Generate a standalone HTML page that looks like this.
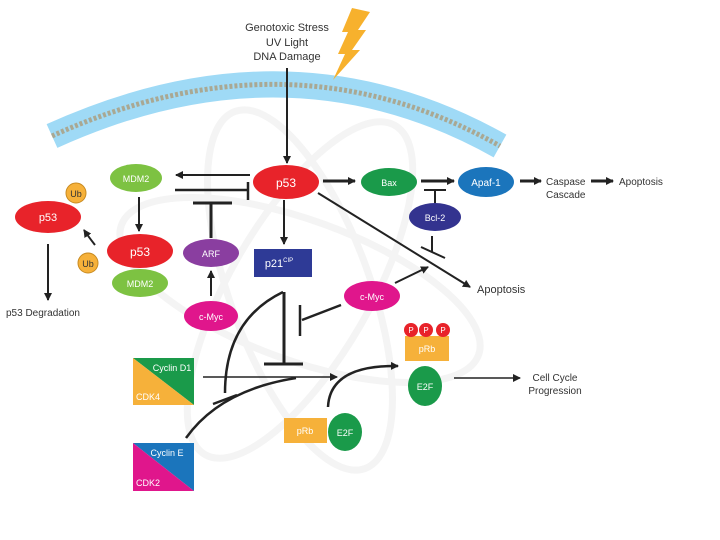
<!DOCTYPE html>
<html><head><meta charset="utf-8"><style>body{margin:0;background:#fff}svg{display:block}text{font-family:"Liberation Sans",sans-serif}</style></head><body>
<svg width="720" height="540" viewBox="0 0 720 540" xmlns="http://www.w3.org/2000/svg">
<defs><marker id="a" markerWidth="8" markerHeight="8" refX="7" refY="4" orient="auto" markerUnits="userSpaceOnUse"><path d="M0,0L8,4L0,8z" fill="#222"/></marker></defs>
<g fill="none" stroke="#f4f4f4" stroke-width="7">
<ellipse cx="300" cy="290" rx="190" ry="70" transform="rotate(20 300 290)"/>
<ellipse cx="300" cy="290" rx="190" ry="70" transform="rotate(-60 300 290)"/>
<ellipse cx="300" cy="290" rx="190" ry="70" transform="rotate(70 300 290)"/>
</g>
<path d="M52,136 Q290,28 500,146" fill="none" stroke="#9fdaf6" stroke-width="26"/>
<path d="M52,136 Q290,28 500,146" fill="none" stroke="#a9a893" stroke-width="5" stroke-dasharray="3 2"/>
<polygon points="352,8 370,12 358,30 366,30 352,50 360,50 333,80 345,54 338,54 348,32 342,32" fill="#f7b12d"/>
<g font-size="11" fill="#333" text-anchor="middle"><text x="287" y="31">Genotoxic Stress</text><text x="287" y="46">UV Light</text><text x="287" y="60">DNA Damage</text></g>
<g stroke="#222" stroke-width="2" fill="none">
<line x1="287" y1="68" x2="287" y2="163" marker-end="url(#a)"/>
<line x1="250" y1="175" x2="176" y2="175" marker-end="url(#a)"/>
<line x1="175" y1="190" x2="247" y2="190" stroke-width="2.5"/><line x1="248" y1="182" x2="248" y2="200" stroke-width="2.5"/>
<line x1="139" y1="197" x2="139" y2="231" marker-end="url(#a)"/>
<path d="M95,245 Q88,236 84,230" marker-end="url(#a)"/>
<line x1="48" y1="244" x2="48" y2="300" marker-end="url(#a)"/>
<line x1="211" y1="238" x2="211" y2="203" stroke-width="3"/><line x1="193" y1="203" x2="232" y2="203" stroke-width="3"/>
<line x1="211" y1="296" x2="211" y2="271" marker-end="url(#a)"/>
<line x1="284" y1="200" x2="284" y2="244" marker-end="url(#a)"/>
<line x1="323" y1="181" x2="355" y2="181" stroke-width="3" marker-end="url(#a)"/>
<line x1="421" y1="181" x2="454" y2="181" stroke-width="3" marker-end="url(#a)"/>
<line x1="435" y1="203" x2="435" y2="190"/><line x1="424" y1="190" x2="446" y2="190"/>
<line x1="432" y1="236" x2="432" y2="252"/><line x1="421" y1="247" x2="445" y2="258"/>
<line x1="318" y1="193" x2="470" y2="287" marker-end="url(#a)"/>
<line x1="395" y1="283" x2="428" y2="267" marker-end="url(#a)"/>
<line x1="341" y1="305" x2="302" y2="320" stroke-width="2.5"/><line x1="300" y1="305" x2="300" y2="336" stroke-width="2.5"/>
<line x1="520" y1="181" x2="541" y2="181" stroke-width="3" marker-end="url(#a)"/>
<line x1="591" y1="181" x2="613" y2="181" stroke-width="3" marker-end="url(#a)"/>
<line x1="284" y1="292" x2="284" y2="364" stroke-width="3"/><line x1="264" y1="364" x2="303" y2="364" stroke-width="3"/>
<path d="M225,393 Q225,320 283,292" stroke-width="2.5"/>
<line x1="213" y1="404" x2="237" y2="395" stroke-width="2.5"/>
<path d="M186,438 Q220,390 296,378" stroke-width="2.5"/>
<line x1="203" y1="377" x2="337" y2="377" stroke-width="1.5" marker-end="url(#a)"/>
<path d="M328,407 Q330,365 398,366" stroke-width="2.5" marker-end="url(#a)"/>
<line x1="454" y1="378" x2="520" y2="378" stroke-width="1.5" marker-end="url(#a)"/>
</g>
<g font-size="9" fill="#fff" text-anchor="middle">
<ellipse cx="286" cy="182" rx="33" ry="17" fill="#e8232a"/><text x="286" y="187" font-size="12">p53</text>
<ellipse cx="136" cy="178" rx="26" ry="14" fill="#7dc242"/><text x="136" y="182">MDM2</text>
<ellipse cx="48" cy="217" rx="33" ry="16" fill="#e8232a"/><text x="48" y="221" font-size="11">p53</text>
<circle cx="76" cy="193" r="10" fill="#f6b13a" stroke="#c88a20"/><text x="76" y="197" fill="#333">Ub</text>
<circle cx="88" cy="263" r="10" fill="#f6b13a" stroke="#c88a20"/><text x="88" y="267" fill="#333">Ub</text>
<ellipse cx="140" cy="251" rx="33" ry="17" fill="#e8232a"/><text x="140" y="256" font-size="12">p53</text>
<ellipse cx="140" cy="283" rx="28" ry="14" fill="#7dc242"/><text x="140" y="287">MDM2</text>
<ellipse cx="211" cy="253" rx="28" ry="14" fill="#8a3ea0"/><text x="211" y="257">ARF</text>
<ellipse cx="211" cy="316" rx="27" ry="15" fill="#e0168c"/><text x="211" y="320">c-Myc</text>
<rect x="254" y="249" width="58" height="28" fill="#2e3a96"/><text x="279" y="267" font-size="11">p21<tspan font-size="6" dy="-5">CIP</tspan></text>
<ellipse cx="389" cy="182" rx="28" ry="14" fill="#1a9a4a"/><text x="389" y="186">Bax</text>
<ellipse cx="486" cy="182" rx="28" ry="15" fill="#1b75bc"/><text x="486" y="186" font-size="10">Apaf-1</text>
<ellipse cx="435" cy="217" rx="26" ry="14" fill="#33338f"/><text x="435" y="221">Bcl-2</text>
<ellipse cx="372" cy="296" rx="28" ry="15" fill="#e0168c"/><text x="372" y="300">c-Myc</text>
<polygon points="133,358 194,358 194,405" fill="#1a9a4a"/><polygon points="133,358 194,405 133,405" fill="#f6b13a"/>
<text x="172" y="371">Cyclin D1</text><text x="148" y="400">CDK4</text>
<polygon points="133,443 194,443 194,491" fill="#1b75bc"/><polygon points="133,443 194,491 133,491" fill="#e0168c"/>
<text x="167" y="456">Cyclin E</text><text x="148" y="486">CDK2</text>
<rect x="405" y="336" width="44" height="25" fill="#f6b13a"/><text x="427" y="352">pRb</text>
<circle cx="411" cy="330" r="7" fill="#e8232a"/><circle cx="426" cy="330" r="7" fill="#e8232a"/><circle cx="443" cy="330" r="7" fill="#e8232a"/>
<text x="411" y="333" font-size="8">P</text><text x="426" y="333" font-size="8">P</text><text x="443" y="333" font-size="8">P</text>
<ellipse cx="425" cy="386" rx="17" ry="20" fill="#1a9a4a"/><text x="425" y="390">E2F</text>
<rect x="284" y="418" width="43" height="25" fill="#f6b13a"/><text x="305" y="434">pRb</text>
<ellipse cx="345" cy="432" rx="17" ry="19" fill="#1a9a4a"/><text x="345" y="436">E2F</text>
</g>
<g font-size="10" fill="#333">
<text x="6" y="316">p53 Degradation</text>
<text x="546" y="185">Caspase</text><text x="546" y="198">Cascade</text>
<text x="619" y="185">Apoptosis</text>
<text x="477" y="293" font-size="11">Apoptosis</text>
<text x="555" y="381" text-anchor="middle">Cell Cycle</text><text x="555" y="394" text-anchor="middle">Progression</text>
</g>
</svg>
</body></html>
